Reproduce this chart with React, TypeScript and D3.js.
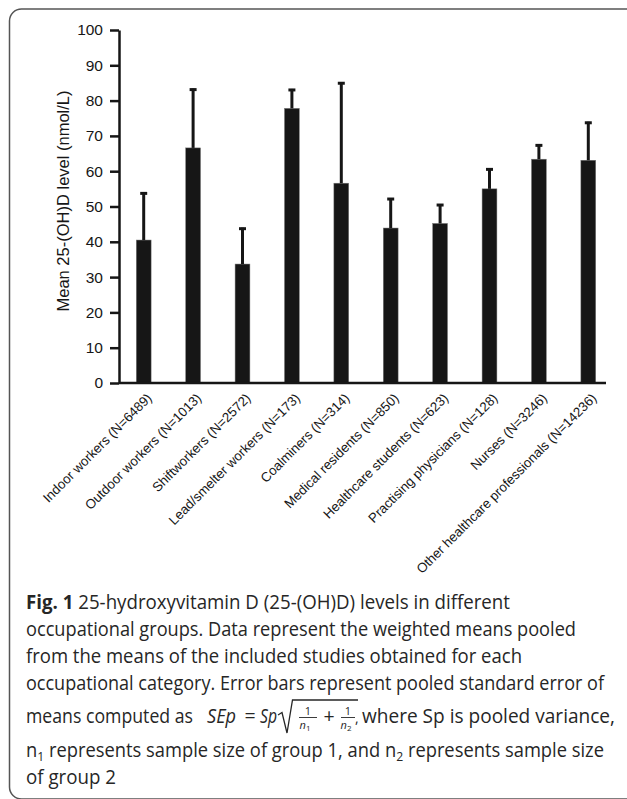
import React, { useEffect, useRef } from 'react';
import * as d3 from 'd3';

const categories = [
  'Indoor workers (N=6489)',
  'Outdoor workers (N=1013)',
  'Shiftworkers (N=2572)',
  'Lead/smelter workers (N=173)',
  'Coalminers (N=314)',
  'Medical residents (N=850)',
  'Healthcare students (N=623)',
  'Practising physicians (N=128)',
  'Nurses (N=3246)',
  'Other healthcare professionals (N=14236)',
];
const means = [40.5, 66.6, 33.7, 77.8, 56.6, 43.9, 45.2, 55.0, 63.4, 63.1];
const upperErr = [54.0, 83.4, 44.0, 83.3, 85.2, 52.4, 50.7, 60.8, 67.6, 74.0];
const yTicks = [0, 10, 20, 30, 40, 50, 60, 70, 80, 90, 100];

const W = 627;
const H = 799;
const ink = '#161616';
const axisFont = '"Liberation Sans", Arial, Helvetica, sans-serif';
const capFont = '"Open Sans", "Noto Sans", sans-serif';

const App = () => {
  const svgRef = useRef<SVGSVGElement>(null);

  useEffect(() => {
    const svg = d3.select(svgRef.current);
    svg.selectAll('g.chart').remove();
    const g = svg.append('g').attr('class', 'chart');

    const y = d3.scaleLinear().domain([0, 100]).range([383, 30]);
    const x = d3.scaleBand<string>()
      .domain(categories)
      .range([119, 613])
      .paddingInner(0.7)
      .paddingOuter(0.35);

    // bars
    g.selectAll('rect.bar')
      .data(means)
      .enter().append('rect')
      .attr('class', 'bar')
      .attr('x', (d, i) => x(categories[i])!)
      .attr('width', x.bandwidth())
      .attr('y', d => y(d))
      .attr('height', d => y(0) - y(d))
      .attr('fill', ink)
      .attr('stroke', '#777')
      .attr('stroke-width', 0.5);

    // error bars (upper only)
    const err = g.selectAll('g.err')
      .data(means)
      .enter().append('g')
      .attr('class', 'err')
      .attr('transform', (d, i) => `translate(${x(categories[i])! + x.bandwidth() / 2},0)`);
    err.append('line')
      .attr('y1', d => y(d))
      .attr('y2', (d, i) => y(upperErr[i]))
      .attr('stroke', ink)
      .attr('stroke-width', 3);
    err.append('line')
      .attr('x1', -3.5)
      .attr('x2', 3.5)
      .attr('y1', (d, i) => y(upperErr[i]) + 1)
      .attr('y2', (d, i) => y(upperErr[i]) + 1)
      .attr('stroke', ink)
      .attr('stroke-width', 3);

    // y axis
    const yAxis = g.append('g')
      .attr('transform', 'translate(119,0)')
      .call(d3.axisLeft(y).tickValues(yTicks).tickSize(9).tickSizeOuter(0).tickPadding(7));
    yAxis.select('.domain').attr('stroke', ink).attr('stroke-width', 2.5);
    yAxis.selectAll('.tick line').attr('stroke', ink).attr('stroke-width', 2.5);
    yAxis.selectAll('.tick text')
      .attr('fill', ink)
      .style('font-family', axisFont)
      .style('font-size', '15.5px');

    // x axis
    g.append('line')
      .attr('x1', 119).attr('x2', 606)
      .attr('y1', y(0)).attr('y2', y(0))
      .attr('stroke', ink).attr('stroke-width', 2.5);
    const xAxis = g.append('g')
      .attr('transform', `translate(0,${y(0)})`)
      .call(d3.axisBottom(x).tickSize(0).tickSizeOuter(0));
    xAxis.select('.domain').remove();
    xAxis.selectAll('.tick text')
      .attr('x', 0).attr('y', 0).attr('dy', 0)
      .attr('transform', 'translate(9,16) rotate(-45)')
      .attr('text-anchor', 'end')
      .attr('fill', ink)
      .style('font-family', axisFont)
      .style('font-size', '13.3px');

    // y title
    g.append('text')
      .attr('transform', 'translate(69,201) rotate(-90)')
      .attr('text-anchor', 'middle')
      .attr('fill', ink)
      .style('font-family', axisFont)
      .style('font-size', '16.5px')
      .text('Mean 25-(OH)D level (nmol/L)');
  }, []);

  const cap = { fontFamily: capFont, fontSize: '19.5px', fill: '#262626' } as React.CSSProperties;

  return (
    <svg ref={svgRef} width={W} height={H}
      style={{ position: 'absolute', left: 0, top: 0, display: 'block', background: '#fff' }}>
      <rect x={9.5} y={9} width={640} height={790} rx={12} fill="none" stroke="#555" strokeWidth={1.5} />
      <g style={cap}>
        <text x={26} y={609} textLength={484} lengthAdjust="spacingAndGlyphs">
          <tspan fontWeight="bold">Fig. 1</tspan> 25-hydroxyvitamin D (25-(OH)D) levels in different
        </text>
        <text x={26} y={636} textLength={550} lengthAdjust="spacingAndGlyphs">
          occupational groups. Data represent the weighted means pooled
        </text>
        <text x={26} y={663} textLength={496} lengthAdjust="spacingAndGlyphs">
          from the means of the included studies obtained for each
        </text>
        <text x={26} y={690} textLength={578} lengthAdjust="spacingAndGlyphs">
          occupational category. Error bars represent pooled standard error of
        </text>
        <text x={26} y={723} textLength={167} lengthAdjust="spacingAndGlyphs">means computed as</text>
        <text x={207} y={723} fontStyle="italic" textLength={29} lengthAdjust="spacingAndGlyphs">SEp</text>
        <text x={250} y={723} textAnchor="middle">=</text>
        <text x={260} y={723} fontStyle="italic" textLength={17} lengthAdjust="spacingAndGlyphs">Sp</text>
        <path d="M278,715 L282,712.5 L287,733 L292.5,700 L358,700" fill="none" stroke="#262626" strokeWidth={1.3} />
        <text x={308} y={715} textAnchor="middle" fontSize="11px">1</text>
        <line x1={299} x2={317} y1={717.5} y2={717.5} stroke="#262626" strokeWidth={0.9} />
        <text x={305} y={729} textAnchor="middle" fontSize="11px" fontStyle="italic">n<tspan fontSize="8px" fontStyle="normal" dy={2}>1</tspan></text>
        <text x={329} y={723} textAnchor="middle">+</text>
        <text x={348} y={715} textAnchor="middle" fontSize="11px">1</text>
        <line x1={341} x2={355} y1={717.5} y2={717.5} stroke="#262626" strokeWidth={0.9} />
        <text x={346} y={729} textAnchor="middle" fontSize="11px" fontStyle="italic">n<tspan fontSize="8px" fontStyle="normal" dy={2}>2</tspan></text>
        <text x={355} y={723} fontSize="14px">,</text>
        <text x={362} y={723} textLength={253} lengthAdjust="spacingAndGlyphs">where Sp is pooled variance,</text>
        <text x={26} y={757} textLength={578} lengthAdjust="spacingAndGlyphs">
          n<tspan fontSize="13px" dy={4}>1</tspan><tspan dy={-4}> represents sample size of group 1, and n</tspan><tspan fontSize="13px" dy={4}>2</tspan><tspan dy={-4}> represents sample size</tspan>
        </text>
        <text x={26} y={784} textLength={90} lengthAdjust="spacingAndGlyphs">of group 2</text>
      </g>
    </svg>
  );
};

export default App;
